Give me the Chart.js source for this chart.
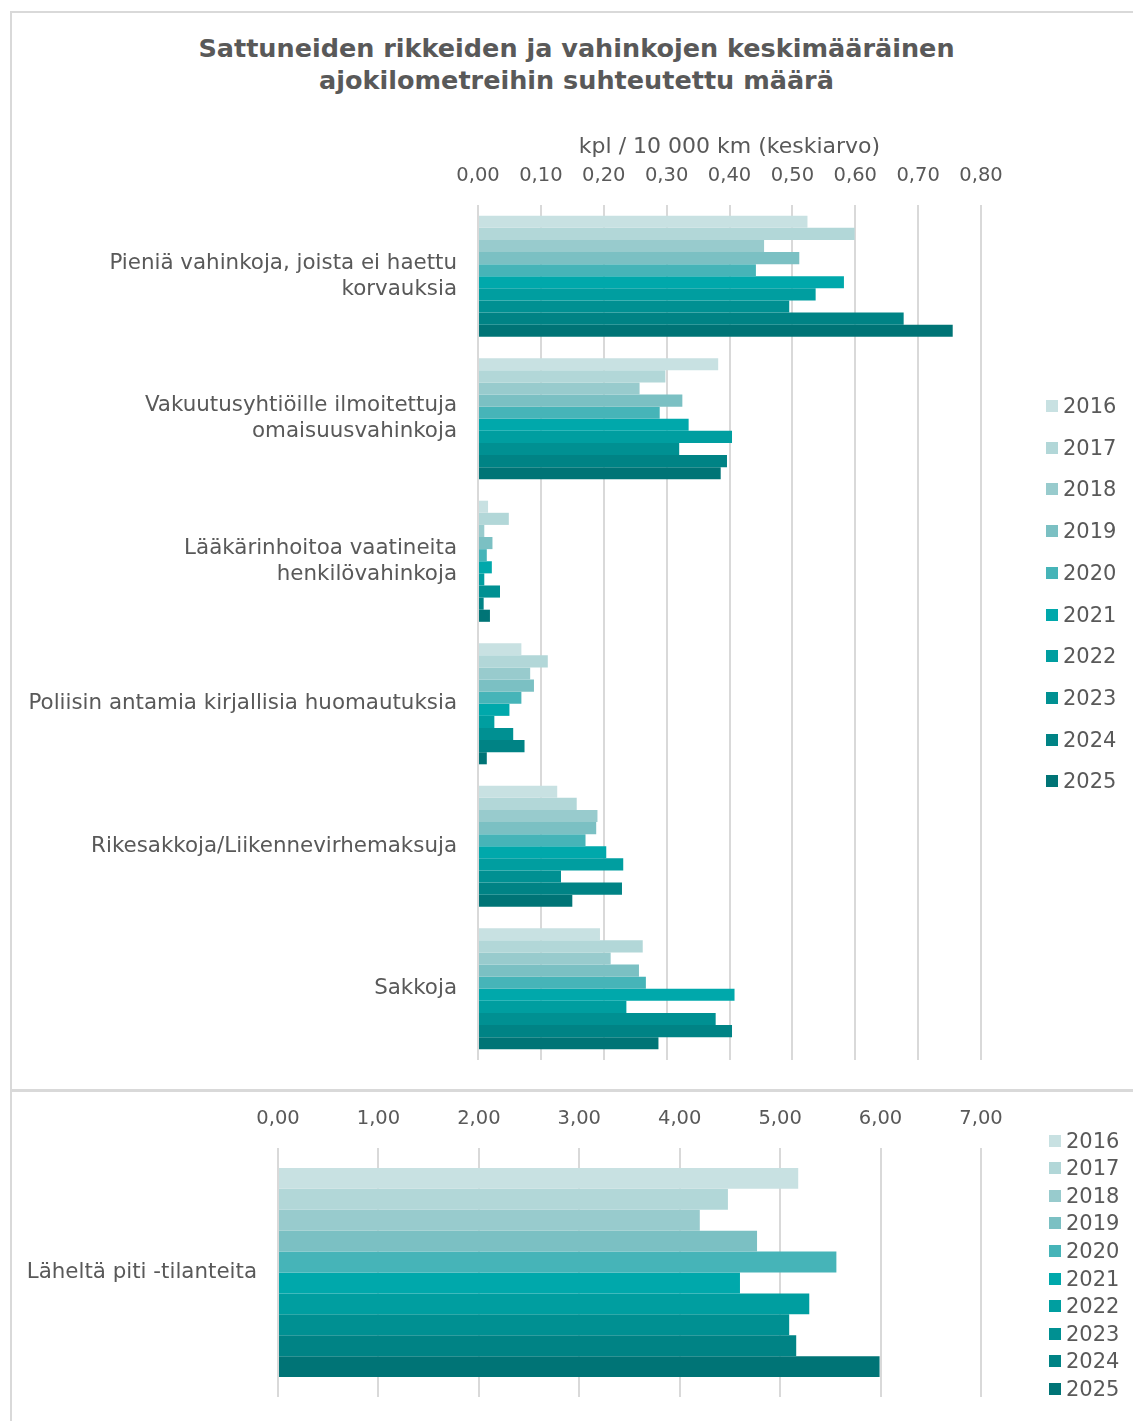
<!DOCTYPE html>
<html lang="fi">
<head>
<meta charset="utf-8">
<title>Rikkeet ja vahingot ajokilometreihin suhteutettuna</title>
<script src="https://cdn.jsdelivr.net/npm/chart.js@4.4.1/dist/chart.umd.min.js"></script>
<style>
    body { margin: 0; background: #fff; font-family: "DejaVu Sans", Verdana, sans-serif; color: #595959; }
    #wrap { position: relative; width: 1133px; height: 1421px; overflow: hidden; }
    .frame { position: absolute; background: #d9d9d9; }
    #title { position: absolute; left: 20px; width: 1113px; top: 32px; text-align: center;
             font-weight: bold; font-size: 25.5px; line-height: 32px; }
    canvas { position: absolute; left: 0; }
    .legend-item { position: absolute; font-size: 21px; line-height: 24px; height: 24px; white-space: nowrap; }
    .legend-item span.box { position: absolute; left: 0; top: 6px; width: 12px; height: 12px; }
    .legend-item span.txt { position: absolute; left: 17px; top: 0; }
</style>
</head>
<body>
<div id="wrap">
    <!-- panel borders -->
    <div class="frame" style="left:10px; top:11px; width:1123px; height:2px;"></div>
    <div class="frame" style="left:10px; top:11px; width:2px; height:1410px;"></div>
    <div class="frame" style="left:10px; top:1089px; width:1123px; height:3px;"></div>

    <div id="title">Sattuneiden rikkeiden ja vahinkojen keskimääräinen<br>ajokilometreihin suhteutettu määrä</div>

    <canvas id="mainChart" width="1133" height="1088" style="top:0"></canvas>
    <canvas id="nearChart" width="1133" height="329" style="top:1092px"></canvas>

    <div id="mainLegend"></div>
    <div id="nearLegend"></div>
</div>

<script>
// Years and their bar colours (light -> dark teal)
const years = ['2016', '2017', '2018', '2019', '2020', '2021', '2022', '2023', '2024', '2025'];
const yearColors = ['#c8e1e2', '#b2d7d8', '#98cbcd', '#7bc0c3', '#46b4b8',
                    '#00a8ab', '#009ea0', '#009092', '#008385', '#007476'];

// Categories of the upper chart (multi-line labels)
const categories = [
    ['Pieniä vahinkoja, joista ei haettu', 'korvauksia'],
    ['Vakuutusyhtiöille ilmoitettuja', 'omaisuusvahinkoja'],
    ['Lääkärinhoitoa vaatineita', 'henkilövahinkoja'],
    'Poliisin antamia kirjallisia huomautuksia',
    'Rikesakkoja/Liikennevirhemaksuja',
    'Sakkoja'
];

// kpl / 10 000 km, one array per year in category order
const v2016 = [0.524, 0.382, 0.016, 0.069, 0.126, 0.194];
const v2017 = [0.599, 0.298, 0.049, 0.111, 0.157, 0.262];
const v2018 = [0.455, 0.257, 0.010, 0.083, 0.190, 0.211];
const v2019 = [0.511, 0.325, 0.023, 0.089, 0.188, 0.256];
const v2020 = [0.442, 0.289, 0.014, 0.069, 0.171, 0.267];
const v2021 = [0.582, 0.335, 0.022, 0.050, 0.204, 0.408];
const v2022 = [0.537, 0.404, 0.010, 0.026, 0.231, 0.236];
const v2023 = [0.495, 0.320, 0.035, 0.056, 0.132, 0.378];
const v2024 = [0.677, 0.396, 0.009, 0.074, 0.229, 0.404];
const v2025 = [0.755, 0.386, 0.019, 0.014, 0.150, 0.287];
const mainValues = [v2016, v2017, v2018, v2019, v2020, v2021, v2022, v2023, v2024, v2025];

// Lower chart: near misses, 2016..2025
const nearCategory = ['Läheltä piti -tilanteita'];
const nearMiss = [5.18, 4.48, 4.20, 4.77, 5.56, 4.60, 5.29, 5.09, 5.16, 5.99];

const mainTicks = { min: 0, max: 0.8, step: 0.1 };
const nearTicks = { min: 0, max: 7, step: 1 };

const textColor = '#595959';
const gridColor = '#d9d9d9';
const fontFamily = '"DejaVu Sans", Verdana, sans-serif';

Chart.defaults.font.family = fontFamily;
Chart.defaults.color = textColor;

const commaFmt = v => Number(v).toFixed(2).replace('.', ',');

// Shared horizontal bar options, plot box given in canvas pixels
function barOptions(ticks, box, axisTitle) {
    return {
        indexAxis: 'y',
        responsive: false,
        animation: false,
        layout: { padding: { left: 0, top: 0, right: 1133 - box.right, bottom: box.canvasH - box.bottom } },
        plugins: { legend: { display: false }, tooltip: { enabled: false } },
        datasets: { bar: { categoryPercentage: box.catPct, barPercentage: 1.0, borderWidth: 0 } },
        scales: {
            x: {
                position: 'top',
                min: ticks.min,
                max: ticks.max,
                afterFit: s => {
                    s.height = box.top;
                    s.paddingLeft = 0;
                    s.paddingRight = 0;
                },
                ticks: { stepSize: ticks.step, callback: commaFmt, padding: 17,
                         font: { size: 19.5 }, color: textColor, maxRotation: 0 },
                grid: { color: gridColor, lineWidth: 2, drawTicks: false },
                border: { display: false },
                title: axisTitle ? { display: true, text: axisTitle, color: textColor,
                                     font: { size: 22 }, padding: { top: 134, bottom: 0 } } : { display: false }
            },
            y: {
                // fixed axis width; no extra label overflow padding
                afterFit: s => {
                    s.width = box.left;
                    s.paddingTop = 0;
                    s.paddingBottom = 0;
                },
                ticks: { padding: 21, font: { size: 21.4, lineHeight: 1.22 }, color: textColor },
                grid: { display: false, drawTicks: false },
                border: { display: false }
            }
        }
    };
}

// Upper chart
new Chart(document.getElementById('mainChart'), {
    type: 'bar',
    data: {
        labels: categories,
        datasets: years.map((y, i) => ({
            label: y,
            data: mainValues[i],
            backgroundColor: yearColors[i]
        }))
    },
    options: barOptions(mainTicks, { left: 478, right: 981, top: 205, bottom: 1060, canvasH: 1088, catPct: 0.85 },
                        'kpl / 10 000 km (keskiarvo)')
});

// Lower chart
new Chart(document.getElementById('nearChart'), {
    type: 'bar',
    data: {
        labels: nearCategory,
        datasets: years.map((y, i) => ({
            label: y,
            data: [nearMiss[i]],
            backgroundColor: yearColors[i]
        }))
    },
    options: barOptions(nearTicks, { left: 278, right: 981, top: 56, bottom: 305, canvasH: 329, catPct: 0.84 }, null)
});

// HTML legends
function buildLegend(id, left, firstCenter, step) {
    const el = document.getElementById(id);
    years.forEach((y, i) => {
        const item = document.createElement('div');
        item.className = 'legend-item';
        item.style.left = left + 'px';
        item.style.top = (firstCenter + i * step - 12) + 'px';
        item.innerHTML = `<span class="box" style="background:${yearColors[i]}"></span><span class="txt">${y}</span>`;
        el.appendChild(item);
    });
}

buildLegend('mainLegend', 1046, 406, 41.7);
buildLegend('nearLegend', 1049, 1140.5, 27.6);
</script>
</body>
</html>
